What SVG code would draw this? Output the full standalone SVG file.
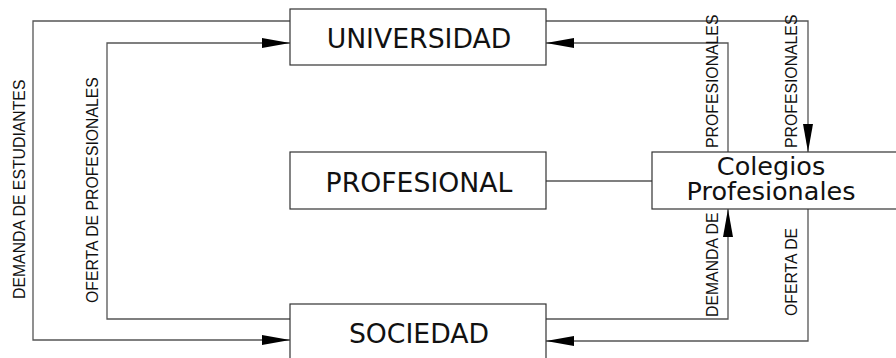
<svg xmlns="http://www.w3.org/2000/svg" width="896" height="358" viewBox="0 0 896 358">
<style>
.box{fill:#fff;stroke:#333;stroke-width:1.2}
.big{font-family:"DejaVu Sans",Verdana,sans-serif;font-size:26.7px;fill:#111;text-anchor:middle}
.col{font-family:"DejaVu Sans",Verdana,sans-serif;font-size:25.5px;fill:#111;text-anchor:middle}
.lbl{font-family:"Liberation Sans",Arial,sans-serif;font-size:15.8px;fill:#111}
.ln{fill:none;stroke:#555;stroke-width:1.3}
</style>
<defs>
<marker id="ah" markerUnits="userSpaceOnUse" markerWidth="28" markerHeight="10" refX="28" refY="5" orient="auto">
<path d="M0,0 L28,5 L0,10 z" fill="#000"/>
</marker>
</defs>
<g id="connectors">
<path class="ln" d="M290,21 H33 V340 H290" marker-end="url(#ah)"/>
<path class="ln" d="M290,319 H107 V43 H290" marker-end="url(#ah)"/>
<path class="ln" d="M546,21 H808 V152" marker-end="url(#ah)"/>
<path class="ln" d="M728,152 V43 H546" marker-end="url(#ah)"/>
<path class="ln" d="M546,319 H728 V209" marker-end="url(#ah)"/>
<path class="ln" d="M808,209 V341 H546" marker-end="url(#ah)"/>
<path class="ln" d="M546,181 H652"/>
</g>
<g id="labels">
<text class="lbl" transform="translate(25,299) rotate(-90)">DEMANDA DE ESTUDIANTES</text>
<text class="lbl" transform="translate(98,303) rotate(-90)">OFERTA DE PROFESIONALES</text>
<text class="lbl" transform="translate(718,148) rotate(-90)">PROFESIONALES</text>
<text class="lbl" transform="translate(797,148) rotate(-90)">PROFESIONALES</text>
<text class="lbl" transform="translate(718,317) rotate(-90)">DEMANDA DE</text>
<text class="lbl" transform="translate(797,316) rotate(-90)">OFERTA DE</text>
</g>
<g id="universidad">
<rect class="box" x="290" y="9" width="256" height="56"/>
<text class="big" x="419" y="48">UNIVERSIDAD</text>
</g>
<g id="profesional">
<rect class="box" x="290" y="152" width="256" height="57"/>
<text class="big" x="419" y="192">PROFESIONAL</text>
</g>
<g id="sociedad">
<rect class="box" x="290" y="304" width="256" height="60"/>
<text class="big" x="419" y="343">SOCIEDAD</text>
</g>
<g id="colegios">
<rect class="box" x="652" y="152" width="260" height="57"/>
<text class="col" x="771" y="175">Colegios</text>
<text class="col" x="771" y="200">Profesionales</text>
</g>
</svg>
